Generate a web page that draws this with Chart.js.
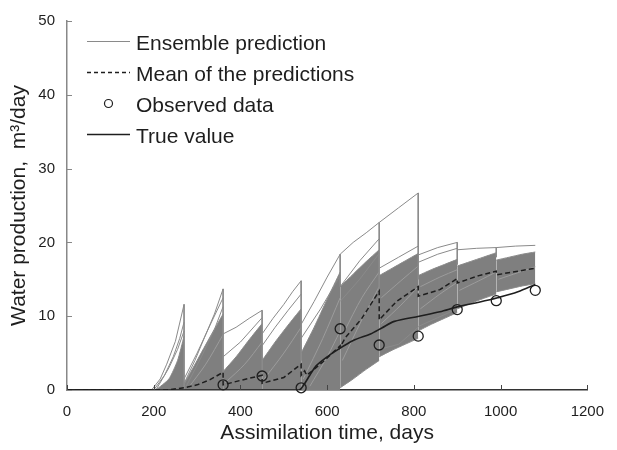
<!DOCTYPE html>
<html>
<head>
<meta charset="utf-8">
<script src="https://cdn.jsdelivr.net/npm/chart.js@4.4.1/dist/chart.umd.min.js"></script>
<style>
  html, body { margin: 0; padding: 0; background: #fff; }
  #wrap { width: 617px; height: 450px; }
</style>
</head>
<body>
<div id="wrap"><canvas id="waterChart" width="617" height="450"></canvas></div>
<script>
// axis ranges
const xRange = [0, 1200];
const yRange = [0, 50];
const xStep = 200;
const yStep = 10;

// true value (solid line)
const trueT = [0, 535, 545, 560, 575, 600, 620, 660, 700, 726, 755, 812, 860, 902, 950, 993, 1040, 1080];
const trueV = [0, 0, 0.6, 2, 3.3, 4.5, 5.3, 6.7, 7.6, 8.4, 9.3, 10, 10.6, 11.3, 11.9, 12.5, 13.3, 14.3];

// mean of the ensemble (dashed), drops at each assimilation step
const meanT = [0, 230, 270, 300, 330, 360, 360, 400, 450, 450, 500, 540, 540, 548, 553, 590, 630, 630, 642, 680, 720, 720, 760, 810, 810, 860, 900, 900, 950, 990, 990, 1040, 1080];
const meanV = [0, 0, 0.3, 0.7, 1.4, 2.4, 0.7, 1.3, 2.0, 0.9, 1.7, 3.5, 2.0, 2.6, 2.0, 3.8, 6.0, 5.8, 7.1, 9.7, 13.4, 9.5, 12.0, 14.0, 12.7, 13.6, 15.1, 14.5, 15.5, 16.1, 15.6, 16.1, 16.5];

// observed data (circles)
const obsT = [360, 450, 540, 630, 720, 810, 900, 990, 1080];
const obsV = [0.7, 1.9, 0.3, 8.3, 6.1, 7.3, 10.9, 12.1, 13.5];

// dense part of the ensemble, one band per assimilation window
const bandT = [
  [205, 235, 255, 270], [270, 300, 330, 360], [360, 390, 420, 450], [450, 480, 510, 540],
  [540, 570, 600, 630], [630, 660, 690, 720], [720, 750, 780, 810], [810, 840, 870, 900],
  [900, 930, 960, 990], [990, 1020, 1050, 1080]
];
const bandLo = [
  [0, 0, 0, 0], [0, 0, 0, 0], [0, 0, 0, 0], [0, 0, 0, 0],
  [0, 0, 0, 0], [0.3, 1.5, 2.8, 4], [4.5, 5.4, 6.2, 7], [8, 8.9, 9.7, 10.5],
  [11, 11.7, 12.4, 13], [13.3, 13.7, 14.1, 14.4]
];
const bandHi = [
  [0, 1.5, 4, 7.3], [0.8, 4, 7.2, 10.3], [2.5, 4.5, 6.8, 9], [4, 6.5, 8.8, 11],
  [5, 8.5, 12.3, 16], [14, 15.7, 17.4, 19], [15.5, 16.5, 17.5, 18.5], [15.5, 16.3, 17, 17.7],
  [16.8, 17.4, 18, 18.6], [17.6, 18, 18.4, 18.7]
];

// individual ensemble members that stand out of the dense part
const members = [
  [[195, 0], [215, 1.5], [230, 3.5], [250, 6.6], [270, 11.6], [270, 0]],
  [[200, 0], [225, 2], [245, 4.5], [260, 7], [270, 9.2]],
  [[205, 0], [235, 3], [255, 5.5], [270, 8]],
  [[270, 0.9], [295, 4], [317, 7.1], [340, 10.3], [360, 13.7], [360, 0.5]],
  [[270, 1.5], [300, 5], [330, 8.8], [360, 12.5]],
  [[275, 0.5], [310, 4.5], [340, 8.2], [360, 11.3]],
  [[360, 7.6], [390, 8.5], [420, 9.7], [450, 10.8], [450, 2]],
  [[360, 4.5], [400, 6.5], [450, 9.8]],
  [[450, 7.6], [475, 9.7], [500, 11.6], [520, 13.3], [540, 14.8], [540, 4]],
  [[450, 6], [480, 8.5], [510, 10.8], [540, 13]],
  [[540, 8.9], [570, 12], [600, 15.3], [630, 18.4], [630, 14]],
  [[540, 7], [585, 11], [630, 15.5]],
  [[630, 18.4], [660, 20], [690, 21.3], [720, 22.7], [720, 9.7]],
  [[630, 14], [675, 17.5], [720, 20.5]],
  [[630, 12], [675, 15], [720, 18.5]],
  [[720, 22.7], [765, 24.7], [810, 26.7], [810, 15]],
  [[720, 16.5], [765, 18], [810, 19.5]],
  [[720, 5.5], [765, 6.2], [810, 8.5]],
  [[810, 18.3], [855, 19.3], [900, 20], [900, 17]],
  [[810, 17.3], [855, 18.4], [900, 19.2]],
  [[810, 8.6], [855, 9.8], [900, 11]],
  [[900, 19], [945, 19.2], [990, 19.3], [990, 18]],
  [[990, 19.3], [1035, 19.5], [1080, 19.6]]
];

// members inside the dense part, drawn lighter so the band keeps its line texture
const innerMembers = [
  [[280, 0.3], [320, 3.5], [360, 7.5]],
  [[365, 1], [410, 3.5], [450, 6.5]],
  [[455, 1.5], [500, 5], [540, 8.5]],
  [[545, 1.5], [590, 7], [630, 12.5]],
  [[560, 0.5], [600, 4.5], [630, 8]],
  [[635, 4], [680, 9.5], [720, 14]],
  [[640, 8], [680, 12.5], [720, 16]],
  [[725, 9], [770, 11.5], [810, 14]],
  [[725, 12.5], [770, 14.8], [810, 16.8]],
  [[815, 11], [860, 13], [900, 14.6]],
  [[815, 14], [860, 15.3], [900, 16.3]],
  [[905, 13.5], [950, 14.8], [990, 16]],
  [[995, 15], [1040, 15.9], [1080, 16.7]]
];

const legendItems = [
  { label: "Ensemble prediction", kind: "ens" },
  { label: "Mean of the predictions", kind: "mean" },
  { label: "Observed data", kind: "obs" },
  { label: "True value", kind: "true" }
];

const FONT = "'Liberation Sans', Arial, sans-serif";
const GRAY = "#8a8a8a";
const FILL = "#7f7f7f";
const INK = "#1e1e1e";

const toPts = (xs, ys) => xs.map((x, i) => ({ x, y: ys[i] }));

const datasets = [];

datasets.push({
  label: "True value",
  data: toPts(trueT, trueV),
  borderColor: INK, borderWidth: 1.6,
  pointRadius: 0, tension: 0.3, fill: false, order: 1
});
datasets.push({
  label: "Observed data",
  data: toPts(obsT, obsV),
  showLine: false,
  pointRadius: 5, pointBorderWidth: 1.3,
  pointBorderColor: INK, pointBackgroundColor: "rgba(0,0,0,0)",
  clip: false, order: 0
});
datasets.push({
  label: "Mean of the predictions",
  data: toPts(meanT, meanV),
  borderColor: INK, borderWidth: 1.5, borderDash: [5, 3],
  pointRadius: 0, tension: 0, fill: false, order: 2
});

members.forEach((m) => {
  datasets.push({
    data: m.map(([x, y]) => ({ x, y })),
    borderColor: GRAY, borderWidth: 1,
    pointRadius: 0, tension: 0, fill: false, order: 5
  });
});

innerMembers.forEach((m) => {
  datasets.push({
    data: m.map(([x, y]) => ({ x, y })),
    borderColor: "#9c9c9c", borderWidth: 1,
    pointRadius: 0, tension: 0.3, fill: false, order: 6
  });
});

bandT.forEach((ts, k) => {
  datasets.push({
    data: toPts(ts, bandLo[k]),
    borderColor: GRAY, borderWidth: bandLo[k][0] > 0 ? 1 : 0,
    pointRadius: 0, tension: 0.2, fill: false, order: 10
  });
  datasets.push({
    data: toPts(ts, bandHi[k]),
    borderColor: GRAY, borderWidth: 1, backgroundColor: FILL,
    pointRadius: 0, tension: 0.2, fill: "-1", order: 10
  });
});

// ticks pointing into the plot, plus the legend in the upper left
const decorPlugin = {
  id: "decor",
  afterDraw(chart) {
    const { ctx, chartArea: a, scales } = chart;
    ctx.save();
    ctx.lineWidth = 1;
    ctx.strokeStyle = "#444";
    for (let v = xRange[0]; v <= xRange[1]; v += xStep) {
      const px = Math.round(scales.x.getPixelForValue(v)) + 0.5;
      ctx.beginPath(); ctx.moveTo(px, a.bottom); ctx.lineTo(px, a.bottom - 5); ctx.stroke();
    }
    ctx.strokeStyle = "#888";
    for (let v = yRange[0]; v <= yRange[1]; v += yStep) {
      const py = Math.round(scales.y.getPixelForValue(v)) + 0.5;
      ctx.beginPath(); ctx.moveTo(a.left, py); ctx.lineTo(a.left + 5, py); ctx.stroke();
    }

    // legend
    const x0 = 87, x1 = 130, tx = 136;
    const rowY = [44, 75, 106, 137];
    ctx.font = "21px " + FONT;
    ctx.textBaseline = "middle";
    ctx.fillStyle = INK;
    legendItems.forEach((it, i) => {
      const y = rowY[i];
      const ly = y - 2.5;
      ctx.setLineDash([]);
      if (it.kind === "ens") {
        ctx.strokeStyle = GRAY; ctx.lineWidth = 1;
        ctx.beginPath(); ctx.moveTo(x0, ly); ctx.lineTo(x1, ly); ctx.stroke();
      } else if (it.kind === "mean") {
        ctx.strokeStyle = INK; ctx.lineWidth = 1.3; ctx.setLineDash([4, 3]);
        ctx.beginPath(); ctx.moveTo(x0, ly); ctx.lineTo(x1, ly); ctx.stroke();
      } else if (it.kind === "obs") {
        ctx.strokeStyle = INK; ctx.lineWidth = 1.2;
        ctx.beginPath(); ctx.arc((x0 + x1) / 2, ly, 4, 0, Math.PI * 2); ctx.stroke();
      } else {
        ctx.strokeStyle = INK; ctx.lineWidth = 1.5;
        ctx.beginPath(); ctx.moveTo(x0, ly); ctx.lineTo(x1, ly); ctx.stroke();
      }
      ctx.setLineDash([]);
      ctx.fillText(it.label, tx, y);
    });
    ctx.restore();
  }
};

new Chart(document.getElementById("waterChart"), {
  type: "line",
  data: { datasets },
  options: {
    responsive: false,
    animation: false,
    devicePixelRatio: 1,
    layout: { padding: { top: 15, right: 21, left: 0, bottom: 0 } },
    plugins: { legend: { display: false }, tooltip: { enabled: false } },
    scales: {
      x: {
        type: "linear",
        min: xRange[0], max: xRange[1],
        afterFit: (s) => { s.height = 60; },
        ticks: {
          stepSize: xStep, color: INK, font: { family: FONT, size: 15 }, padding: 13, maxRotation: 0,
          callback: (v) => String(v)
        },
        grid: { drawOnChartArea: false, drawTicks: false },
        border: { color: "#333", width: 1.5 },
        title: {
          display: true, text: "Assimilation time, days", color: INK,
          font: { family: FONT, size: 21 }, padding: { top: 0, bottom: 4 }
        }
      },
      y: {
        type: "linear",
        min: yRange[0], max: yRange[1],
        afterFit: (s) => { s.width = 67; },
        ticks: {
          stepSize: yStep, color: INK, font: { family: FONT, size: 15 }, padding: 12,
          callback: (v) => String(v)
        },
        grid: { drawOnChartArea: false, drawTicks: false },
        border: { color: "#888", width: 1.5 },
        title: {
          display: true, text: "Water production,  m\u00b3/day", color: INK,
          font: { family: FONT, size: 21 }, padding: { top: 7, bottom: 0 }
        }
      }
    }
  },
  plugins: [decorPlugin]
});
</script>
</body>
</html>
